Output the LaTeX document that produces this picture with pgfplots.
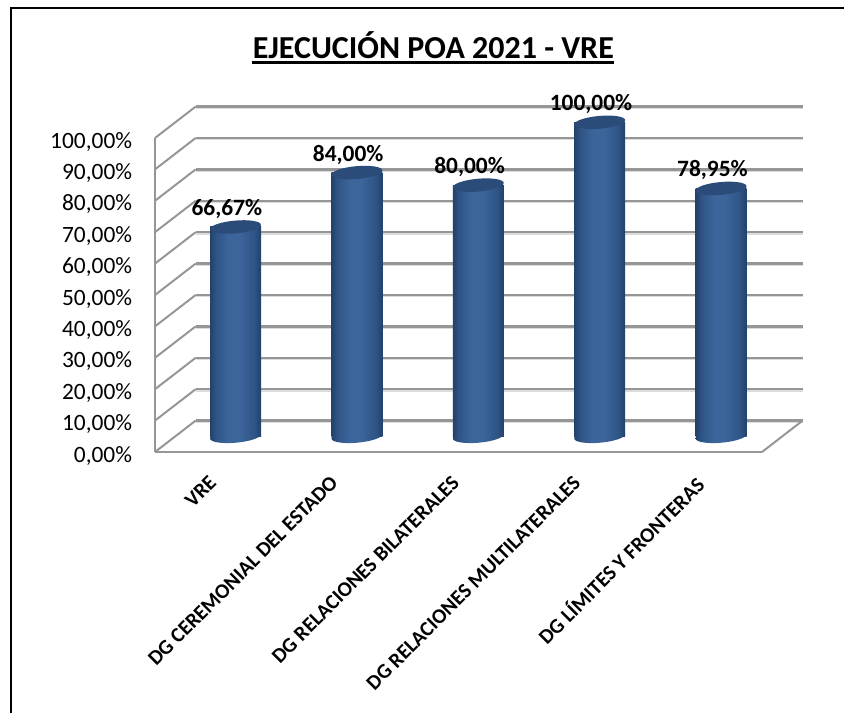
\documentclass[border=0pt]{standalone}
\usepackage{fontspec}
\setmainfont{Carlito}
\usepackage{pgfplots}
\usepackage{pgfplotstable}
\pgfplotsset{compat=1.18}

\definecolor{wall}{HTML}{969696}
\definecolor{wallshadow}{HTML}{DCDCDC}
\definecolor{captop}{HTML}{2B4B78}
\definecolor{cyldark}{HTML}{23416A}
\definecolor{cylhalf}{HTML}{2F5587}
\definecolor{cylmid}{HTML}{3C659B}
% the path's box covers 25bp to 75bp of the shading
\pgfdeclarehorizontalshading{cylbar}{100bp}{
  color(0bp)=(cyldark);
  color(25bp)=(cyldark);
  color(31bp)=(cylhalf);
  color(43bp)=(cylmid);
  color(54bp)=(cylmid);
  color(68bp)=(cylhalf);
  color(75bp)=(cyldark);
  color(100bp)=(cyldark)}
\pgfdeclareplotmark{cyltop}{%
  \pgfsetfillcolor{captop}%
  \pgfpathellipse{\pgfpointorigin}{\pgfpoint{19.1pt}{1.7pt}}{\pgfpoint{-0.42pt}{4.78pt}}%
  \pgfusepathqfill}
\pgfdeclareplotmark{cylbase}{%
  \pgfpathellipse{\pgfpointorigin}{\pgfpoint{19.1pt}{1.7pt}}{\pgfpoint{-0.42pt}{4.78pt}}%
  \pgfshadepath{cylbar}{0}%
  \pgfusepath{discard}}

% back wall lines and the slanted depth lines, front plane coordinates
\pgfplotstableread{
x y
-0.165 10
4.835 10
nan nan
-0.165 20
4.835 20
nan nan
-0.165 30
4.835 30
nan nan
-0.165 40
4.835 40
nan nan
-0.165 50
4.835 50
nan nan
-0.165 60
4.835 60
nan nan
-0.165 70
4.835 70
nan nan
-0.165 80
4.835 80
nan nan
-0.165 90
4.835 90
nan nan
-0.165 100
4.835 100
nan nan
-0.165 110
4.835 110
}\backlines
\pgfplotstableread{
x y
-0.5 0
-0.165 10
nan nan
-0.5 10
-0.165 20
nan nan
-0.5 20
-0.165 30
nan nan
-0.5 30
-0.165 40
nan nan
-0.5 40
-0.165 50
nan nan
-0.5 50
-0.165 60
nan nan
-0.5 60
-0.165 70
nan nan
-0.5 70
-0.165 80
nan nan
-0.5 80
-0.165 90
nan nan
-0.5 90
-0.165 100
nan nan
-0.5 100
-0.165 110
nan nan
4.5 0
4.835 10
}\slants
\pgfplotstableread{
x y
0 66.67
1 84.00
2 80.00
3 100.00
4 78.95
}\poa

\begin{document}
\begin{tikzpicture}
\useasboundingbox (0,0) rectangle (633pt,534.75pt);
% page frame
\draw[line width=1.6pt,black] (8.2pt,0) -- (8.2pt,529pt) -- (633pt,529pt);
% title
\node[anchor=base,inner sep=0pt,font=\fontsize{24}{28}\selectfont\bfseries] (t) at (325pt,490.5pt) {EJECUCIÓN POA 2021 - VRE};
\draw[line width=2pt,black] ([yshift=-2.4pt]t.base west) -- ([yshift=-2.4pt]t.base east);

\begin{axis}[
  at={(116.25pt,195.75pt)}, anchor=south west,
  scale only axis, width=455.25pt, height=235.5pt,
  xmin=-0.5, xmax=4.5, ymin=0, ymax=100,
  clip=false,
  axis x line*=bottom, axis y line*=left,
  axis line style={draw=wall,line width=1.8pt,-},
  major tick length=0pt,
  xtick={0,1,2,3,4},
  xticklabels={VRE,DG CEREMONIAL DEL ESTADO,DG RELACIONES BILATERALES,DG RELACIONES MULTILATERALES,DG LÍMITES Y FRONTERAS},
  x tick label style={font=\fontsize{15.7}{18}\selectfont\bfseries,rotate=45,anchor=north east,inner sep=0pt,xshift=-15.95pt,yshift=-7.54pt},
  ytick={0,10,...,100},
  yticklabel={\pgfmathprintnumber[fixed,fixed zerofill,precision=2,use comma,assume math mode=true]{\tick}\%},
  y tick label style={font=\fontsize{17.55}{20}\selectfont,anchor=east,inner sep=0pt,xshift=-17pt,yshift=-2.7pt},
]
\addplot[draw=wallshadow,line width=1.4pt,yshift=-1.1pt,unbounded coords=jump,forget plot] table {\backlines};
\addplot[draw=wall,line width=1.8pt,unbounded coords=jump,forget plot] table {\backlines};
\addplot[draw=wall,line width=1.5pt,unbounded coords=jump,forget plot] table {\slants};
\end{axis}

% cylinders stand half way between the front and the back plane
\begin{axis}[
  at={(131.1pt,207.5pt)}, anchor=south west,
  scale only axis, width=455.25pt, height=235.5pt,
  xmin=-0.5, xmax=4.5, ymin=0, ymax=100,
  clip=false, hide axis,
  cyl/.style={ybar,bar width=38.25pt,bar shift=0pt,draw=none,shading=cylbar,forget plot},
]
\addplot[only marks,mark=cylbase,forget plot] coordinates {(0,0)(1,0)(2,0)(3,0)(4,0)};
% one plot per bar, so that each bar gets its own shading
\addplot[cyl] coordinates {(0,66.67)};
\addplot[cyl] coordinates {(1,84.00)};
\addplot[cyl] coordinates {(2,80.00)};
\addplot[cyl] coordinates {(3,100.00)};
\addplot[cyl] coordinates {(4,78.95)};
\addplot[only marks,mark=cyltop,forget plot,point meta=y,
  nodes near coords={\pgfmathprintnumber[fixed,fixed zerofill,precision=2,use comma,assume math mode=true]{\pgfplotspointmeta}\%},
  nodes near coords style={font=\fontsize{17.55}{20}\selectfont\bfseries,anchor=center,xshift=-6.5pt,yshift=13.5pt,text=black},
] table {\poa};
\end{axis}
\end{tikzpicture}
\end{document}
